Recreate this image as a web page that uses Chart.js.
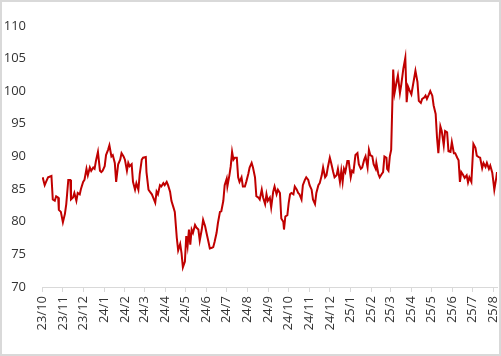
<!DOCTYPE html>
<html>
<head>
<meta charset="utf-8">
<script src="https://cdn.jsdelivr.net/npm/chart.js@4/dist/chart.umd.min.js"></script>
<style>
  html, body { margin: 0; padding: 0; background: #fff; }
  #frame { position: absolute; left: 0; top: 0; width: 501px; height: 356px; box-sizing: border-box; border: 2px solid #d9d9d9; background: #fff; }
  #c { display: block; }
</style>
</head>
<body>
<div id="frame"><canvas id="c" width="497" height="352"></canvas></div>
<script>
// Month tick labels (yy/m)
const tickLabels = ['23/10','23/11','23/12','24/1','24/2','24/3','24/4','24/5','24/6','24/7','24/8','24/9','24/10','24/11','24/12','25/1','25/2','25/3','25/4','25/5','25/6','25/7','25/8'];

// Days since 2023-10-01
const dayIndex = [1,4,6,9,14,16,19,21,24,25,28,31,34,36,39,42,43,46,48,51,53,56,58,61,63,66,68,71,73,76,78,80,83,86,88,90,93,95,98,100,103,105,108,110,
113,116,118,121,123,126,128,130,133,135,138,140,143,145,148,150,154,155,158,160,163,165,168,170,172,175,177,180,182,185,187,190,192,195,197,
200,202,205,207,209,212,214,216,218,220,222,224,227,229,232,234,237,239,242,244,247,249,252,254,256,259,261,264,266,269,271,274,275,278,280,
282,284,286,289,291,293,296,298,301,303,306,308,311,313,316,318,321,323,326,328,331,333,335,338,340,343,345,348,350,353,355,358,359,361,364,
366,368,370,373,375,378,380,382,385,387,390,392,395,397,400,402,405,407,410,412,415,417,420,422,424,427,429,432,434,437,439,442,444,446,448,
450,453,455,458,460,462,465,468,470,473,475,478,480,483,485,487,490,492,495,496,499,501,504,506,508,511,512,514,516,518,521,523,526,528,531,
533,536,539,541,543,545,548,550,554,557,559,562,564,567,569,571,574,576,579,581,584,586,588,591,593,596,598,601,603,606,608,611,613,616,618,
620,622,625,627,630,632,634,637,640,643,645,648,650,653,655,658,660,663,665,668,670,671,674,675];

// Index values
const values = [86.8,85.6,86.1,86.8,87.0,83.4,83.2,83.9,83.7,81.8,81.5,79.9,81.2,82.7,86.4,86.4,83.4,83.7,84.4,83.2,84.4,84.2,85.1,86.1,86.4,88.1,87.1,88.3,87.8,88.3,88.1,89.3,90.7,87.8,87.6,87.8,88.5,90.2,91.0,91.7,90.0,90.2,89.0,86.1,
88.8,89.5,90.5,90.0,89.5,87.8,89.0,88.5,88.8,86.1,84.9,85.9,84.9,87.3,89.5,89.8,89.9,87.6,84.9,84.6,84.2,83.7,82.9,84.6,84.2,85.6,85.4,85.9,85.6,86.1,85.6,84.6,83.2,82.2,81.5,
77.5,75.6,76.6,75.2,73.0,73.9,77.8,76.3,78.8,76.5,78.8,78.3,79.5,79.1,78.8,77.1,78.8,80.3,79.3,78.3,76.9,75.9,76.0,76.1,76.9,78.3,79.8,81.5,81.6,83.2,85.6,86.6,85.4,87.1,88.5,
90.7,89.5,89.8,89.8,86.8,86.1,86.8,85.4,85.4,86.1,87.3,88.3,89.0,88.3,86.8,83.9,83.7,83.4,84.9,83.7,82.7,84.2,83.2,83.7,82.2,84.6,85.4,84.2,84.9,84.4,80.5,80.0,78.8,80.8,81.0,
82.9,84.2,84.4,84.2,85.4,84.9,84.4,84.2,83.4,85.6,86.4,86.8,86.4,85.6,84.9,83.4,82.7,84.4,85.6,85.9,87.1,88.3,86.8,87.1,88.3,89.8,89.0,87.6,86.8,87.1,88.1,86.1,87.8,86.1,88.1,
87.6,89.3,89.3,86.8,87.8,87.6,90.2,90.5,88.8,88.1,88.3,89.5,90.0,88.3,91.0,90.2,90.0,88.8,88.1,89.0,87.3,86.8,87.3,87.6,90.0,89.8,88.1,87.8,90.0,91.0,103.3,99.7,101.4,102.4,99.7,
101.0,103.4,105.1,98.3,100.7,100.2,99.5,100.7,103.1,101.4,98.5,98.2,98.8,99.0,99.3,98.8,99.5,100.0,99.3,97.8,96.5,92.9,90.5,94.6,93.9,91.7,93.9,93.7,90.8,90.7,92.2,90.5,90.5,89.8,89.4,
86.1,87.6,87.1,86.7,87.1,86.0,86.8,86.1,91.9,91.3,90.1,89.9,89.8,88.2,89.0,88.4,89.0,88.1,88.6,87.5,85.8,84.9,86.8,87.6];

const baseUTC = Date.UTC(2023, 9, 1);
const tickDays = tickLabels.map(l => {
  const [yy, mm] = l.split('/').map(Number);
  return (Date.UTC(2000 + yy, mm - 1, 1) - baseUTC) / 86400000;
});

const points = dayIndex.map((d, i) => ({ x: d, y: values[i] }));
const fontFamily = "'Open Sans', 'Noto Sans', sans-serif";

new Chart(document.getElementById('c'), {
  type: 'line',
  data: {
    datasets: [{
      data: points,
      borderColor: '#C00000',
      borderWidth: 2,
      pointRadius: 0,
      tension: 0,
      fill: false
    }]
  },
  options: {
    responsive: false,
    animation: false,
    devicePixelRatio: 1,
    layout: { padding: { top: 11, right: 2, left: 0, bottom: 0 } },
    plugins: { legend: { display: false }, tooltip: { enabled: false } },
    scales: {
      x: {
        type: 'linear',
        min: 0,
        max: 675,
        afterBuildTicks: (scale) => { scale.ticks = tickDays.map(v => ({ value: v })); },
        afterFit: (scale) => { scale.height = 67; scale.paddingRight = 0; scale.paddingLeft = 0; },
        border: { display: true, color: '#d9d9d9', width: 1 },
        grid: { drawOnChartArea: false, drawTicks: true, tickLength: 5, color: '#d9d9d9' },
        ticks: {
          autoSkip: false,
          minRotation: 90,
          maxRotation: 90,
          padding: 4,
          color: '#333333',
          font: { family: fontFamily, size: 13 },
          callback: (v, i) => tickLabels[i]
        }
      },
      y: {
        min: 70,
        max: 110,
        afterFit: (scale) => { scale.width = 40; },
        border: { display: false },
        grid: { display: false, drawTicks: false },
        ticks: {
          stepSize: 5,
          padding: 16,
          color: '#333333',
          font: { family: fontFamily, size: 13 }
        }
      }
    }
  }
});
</script>
</body>
</html>
